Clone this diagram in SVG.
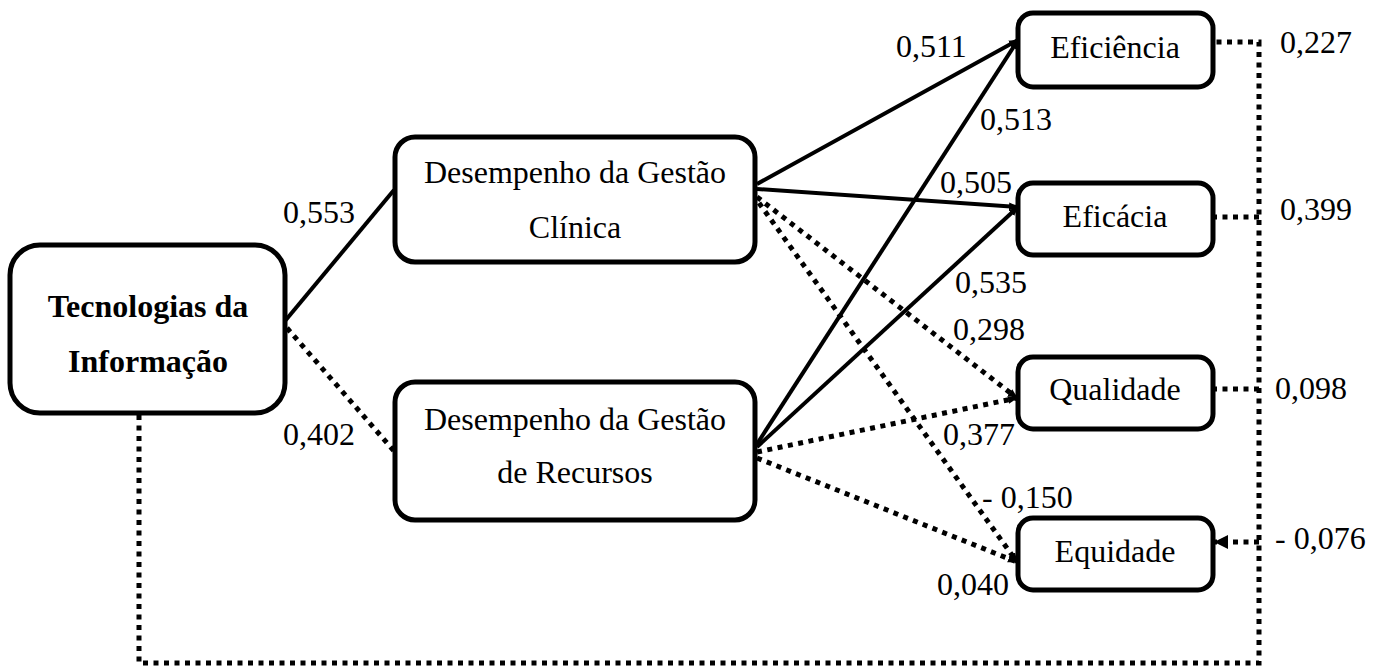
<svg xmlns="http://www.w3.org/2000/svg" width="1381" height="671" viewBox="0 0 1381 671">
<style>
.box{fill:#fff;stroke:#000;stroke-width:5}
.t{font-family:"Liberation Serif","Times New Roman",serif;font-size:32px;fill:#000}
.b{font-weight:bold}
.s{stroke:#000;stroke-width:4;fill:none}
.d{stroke:#000;stroke-width:5;fill:none;stroke-dasharray:5 5.5}
</style>
<defs>
<marker id="a" markerUnits="userSpaceOnUse" markerWidth="10" markerHeight="10" refX="9" refY="5" orient="auto"><path d="M0,1 L10,5 L0,9 Z" fill="#000"/></marker>
<marker id="ab" markerUnits="userSpaceOnUse" markerWidth="14" markerHeight="14" refX="13" refY="7" orient="auto"><path d="M0,0 L14,7 L0,14 Z" fill="#000"/></marker>
</defs>
<g id="connectors">
<line class="s" x1="285" y1="321" x2="394" y2="190"/>
<line class="d" x1="287" y1="328" x2="394" y2="451"/>
<line class="s" x1="757" y1="184" x2="1018" y2="40" marker-end="url(#a)"/>
<line class="s" x1="757" y1="189" x2="1018" y2="207" marker-end="url(#a)"/>
<line class="d" x1="757" y1="197" x2="1017" y2="398" marker-end="url(#a)"/>
<line class="d" x1="759" y1="203" x2="1017" y2="562" marker-end="url(#a)"/>
<line class="s" x1="757" y1="444" x2="1018" y2="40" marker-end="url(#a)"/>
<line class="s" x1="757" y1="447" x2="1018" y2="207" marker-end="url(#a)"/>
<line class="d" x1="757" y1="452" x2="1017" y2="398" marker-end="url(#a)"/>
<line class="d" x1="757" y1="458" x2="1017" y2="562" marker-end="url(#a)"/>
<polyline class="d" points="139,415 139,663 1259,663 1259,42 1215,42"/>
<line class="d" x1="1259" y1="217" x2="1215" y2="217"/>
<line class="d" x1="1259" y1="389" x2="1215" y2="389"/>
<line class="d" x1="1259" y1="542" x2="1215" y2="542" marker-end="url(#ab)"/>
</g>
<g id="labels" class="t">
<text x="283" y="223">0,553</text>
<text x="283" y="445">0,402</text>
<text x="896" y="57">0,511</text>
<text x="980" y="130">0,513</text>
<text x="940" y="193">0,505</text>
<text x="955" y="293">0,535</text>
<text x="953" y="340">0,298</text>
<text x="943" y="445">0,377</text>
<text x="982" y="508">- 0,150</text>
<text x="937" y="595">0,040</text>
<text x="1280" y="53">0,227</text>
<text x="1280" y="220">0,399</text>
<text x="1275" y="399">0,098</text>
<text x="1275" y="549">- 0,076</text>
</g>
<g id="tecnologias">
<rect class="box" x="10" y="245" width="275" height="168" rx="30"/>
<text class="t b" x="148" y="317" text-anchor="middle">Tecnologias da</text>
<text class="t b" x="148" y="372" text-anchor="middle">Informação</text>
</g>
<g id="clinica">
<rect class="box" x="395" y="137" width="360" height="125" rx="20"/>
<text class="t" x="575" y="183" text-anchor="middle">Desempenho da Gestão</text>
<text class="t" x="575" y="238" text-anchor="middle">Clínica</text>
</g>
<g id="recursos">
<rect class="box" x="395" y="382" width="360" height="138" rx="20"/>
<text class="t" x="575" y="430" text-anchor="middle">Desempenho da Gestão</text>
<text class="t" x="575" y="483" text-anchor="middle">de Recursos</text>
</g>
<g id="eficiencia">
<rect class="box" x="1018" y="13" width="195" height="74" rx="15"/>
<text class="t" x="1115" y="58" text-anchor="middle">Eficiência</text>
</g>
<g id="eficacia">
<rect class="box" x="1018" y="183" width="195" height="72" rx="15"/>
<text class="t" x="1115" y="227" text-anchor="middle">Eficácia</text>
</g>
<g id="qualidade">
<rect class="box" x="1018" y="357" width="195" height="72" rx="15"/>
<text class="t" x="1115" y="400" text-anchor="middle">Qualidade</text>
</g>
<g id="equidade">
<rect class="box" x="1018" y="518" width="195" height="72" rx="15"/>
<text class="t" x="1115" y="562" text-anchor="middle">Equidade</text>
</g>
</svg>
